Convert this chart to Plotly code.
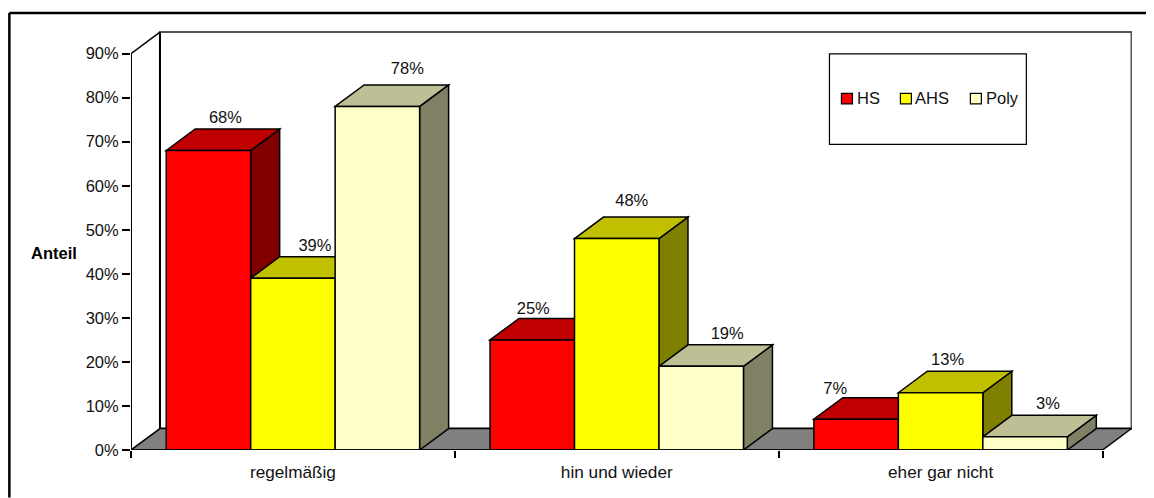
import plotly.graph_objects as go

# Data
categories = ["regelmäßig", "hin und wieder", "eher gar nicht"]
series_names = ["HS", "AHS", "Poly"]
hs_values = [68, 25, 7]
ahs_values = [39, 48, 13]
poly_values = [78, 19, 3]
y_ticks = [0, 10, 20, 30, 40, 50, 60, 70, 80, 90]

# Colours per series: front, top, side
front_colors = ["#FF0000", "#FFFF00", "#FFFFC8"]
top_colors = ["#C00000", "#C0C000", "#BFBF96"]
side_colors = ["#800000", "#808000", "#808064"]

# Label nudges in pixels from the centre of each bar (hand placed in the original)
label_dx = [[17, 1, -21], [22, 15, 7], [30, 26, 23]]
label_dy = [[32, 30, 29], [31, 37, 32], [37, 31, 32]]

# the page body has a default 8px margin, so everything is shifted by it
PAGE_OFFSET = 8
WIDTH = 1154
HEIGHT = 498
PLOT_LEFT = 130.7
PLOT_RIGHT = 1132.2
PLOT_TOP = 31
PLOT_BOTTOM = 450.5
PX_PER_CAT = 324
PX_PER_PCT = 4.41
DEPTH_X = 29 / PX_PER_CAT
DEPTH_Y = 21.5 / PX_PER_PCT
GROUP_WIDTH = 0.7825
BAR_WIDTH = GROUP_WIDTH / 3
FONT = "Liberation Sans"
FONT_SIZE = 16.5


def poly(points):
    return "M " + " L ".join(f"{x},{y}" for x, y in points) + " Z"


def paper_x(px):
    return (px - PLOT_LEFT) / (PLOT_RIGHT - PLOT_LEFT)


def paper_y(px):
    return (PLOT_BOTTOM - px) / (PLOT_BOTTOM - PLOT_TOP)


x_centers = [i + 0.5 for i in range(len(categories))]
x_max = (PLOT_RIGHT - PLOT_LEFT) / PX_PER_CAT
y_max = (PLOT_BOTTOM - PLOT_TOP) / PX_PER_PCT
all_values = [hs_values, ahs_values, poly_values]

fig = go.Figure()
shapes = []

# Back wall, floor and left wall
shapes.append(dict(type="rect", x0=DEPTH_X, x1=3 + DEPTH_X, y0=DEPTH_Y, y1=90 + DEPTH_Y,
                   fillcolor="white", line=dict(color="#555555", width=2), layer="below"))
shapes.append(dict(type="path", path=poly([(0, 0), (DEPTH_X, DEPTH_Y), (3 + DEPTH_X, DEPTH_Y), (3, 0)]),
                   fillcolor="#808080", line=dict(color="black", width=1.5), layer="below"))
shapes.append(dict(type="line", x0=DEPTH_X, x1=DEPTH_X, y0=DEPTH_Y, y1=90 + DEPTH_Y,
                   line=dict(color="black", width=2), layer="below"))
shapes.append(dict(type="line", x0=0, x1=DEPTH_X, y0=90, y1=90 + DEPTH_Y,
                   line=dict(color="black", width=1.5), layer="below"))

label_x, label_y, label_text = [], [], []
for s, name in enumerate(series_names):
    values = all_values[s]
    fig.add_trace(go.Bar(x=x_centers, y=values, name=name, width=BAR_WIDTH,
                         marker=dict(color=front_colors[s], line=dict(color="black", width=1.5))))
    for c, v in enumerate(values):
        x0 = x_centers[c] - GROUP_WIDTH / 2 + s * BAR_WIDTH
        x1 = x0 + BAR_WIDTH
        # top and side faces come from the bar's value plus the depth offset
        shapes.append(dict(type="path", path=poly([(x1, 0), (x1 + DEPTH_X, DEPTH_Y), (x1 + DEPTH_X, v + DEPTH_Y), (x1, v)]),
                           fillcolor=side_colors[s], line=dict(color="black", width=1.5), layer="below"))
        shapes.append(dict(type="path", path=poly([(x0, v), (x0 + DEPTH_X, v + DEPTH_Y), (x1 + DEPTH_X, v + DEPTH_Y), (x1, v)]),
                           fillcolor=top_colors[s], line=dict(color="black", width=1.5), layer="below"))
        label_x.append((x0 + x1) / 2 + label_dx[s][c] / PX_PER_CAT)
        label_y.append(v + label_dy[s][c] / PX_PER_PCT)
        label_text.append(f"{v}%")

fig.add_trace(go.Scatter(x=label_x, y=label_y, text=label_text, mode="text", textposition="middle center",
                         textfont=dict(family=FONT, size=FONT_SIZE, color="#111111"),
                         showlegend=False, hoverinfo="skip", cliponaxis=False))

# Front axis lines
shapes.append(dict(type="line", x0=0, x1=0, y0=0, y1=90, line=dict(color="black", width=2)))
shapes.append(dict(type="line", x0=0, x1=3, y0=0, y1=0, line=dict(color="black", width=1.5)))

# Outer frame: only the top and left edges fall inside the picture
shapes.append(dict(type="line", xref="paper", yref="paper", x0=paper_x(9), x1=paper_x(1154), y0=paper_y(13), y1=paper_y(13),
                   line=dict(color="black", width=2.5)))
shapes.append(dict(type="line", xref="paper", yref="paper", x0=paper_x(9), x1=paper_x(9), y0=paper_y(13), y1=paper_y(498),
                   line=dict(color="black", width=2.5)))

# Legend box drawn by hand: Plotly's swatch spacing is far wider than the original's
shapes.append(dict(type="rect", xref="paper", yref="paper", x0=paper_x(829.5), x1=paper_x(1026.5), y0=paper_y(54), y1=paper_y(144.5),
                   fillcolor="white", line=dict(color="black", width=1.2)))
annotations = []
swatch_left = [841.5, 900.5, 970.5]
legend_text_left = [857, 915, 986]
for s, name in enumerate(series_names):
    shapes.append(dict(type="rect", xref="paper", yref="paper", x0=paper_x(swatch_left[s]), x1=paper_x(swatch_left[s] + 11),
                       y0=paper_y(93.5), y1=paper_y(104), fillcolor=front_colors[s], line=dict(color="black", width=1.2)))
    annotations.append(dict(xref="paper", yref="paper", x=paper_x(legend_text_left[s]), y=paper_y(98), text=name, showarrow=False,
                            xanchor="left", yanchor="middle", xshift=-2, font=dict(family=FONT, size=FONT_SIZE, color="#111111")))

annotations.append(dict(xref="paper", yref="paper", x=paper_x(53.5), y=paper_y(253), text="<b>Anteil</b>", showarrow=False,
                        xanchor="center", yanchor="middle", font=dict(family=FONT, size=FONT_SIZE, color="black")))

fig.update_layout(
    width=WIDTH - PAGE_OFFSET,
    height=HEIGHT - PAGE_OFFSET,
    margin=dict(l=PLOT_LEFT - PAGE_OFFSET, r=WIDTH - PLOT_RIGHT, t=PLOT_TOP - PAGE_OFFSET, b=HEIGHT - PLOT_BOTTOM, pad=0),
    paper_bgcolor="white",
    plot_bgcolor="white",
    barmode="group",
    bargap=1 - GROUP_WIDTH,
    bargroupgap=0,
    showlegend=False,
    shapes=shapes,
    annotations=annotations,
    xaxis=dict(range=[0, x_max], tickvals=x_centers, ticktext=categories, ticks="", showgrid=False, zeroline=False,
               showline=False, tickfont=dict(family=FONT, size=17.2, color="#111111"), ticklabelstandoff=10,
               minor=dict(tickvals=[0, 1, 2, 3], ticks="outside", ticklen=7, tickwidth=1.5, tickcolor="black", showgrid=False)),
    yaxis=dict(range=[0, y_max], tickvals=y_ticks, ticktext=[f"{t}%" for t in y_ticks], ticks="outside", ticklen=8, tickwidth=2,
               tickcolor="black", showgrid=False, zeroline=False, showline=False,
               tickfont=dict(family=FONT, size=FONT_SIZE, color="#111111")),
)

fig.write_html("out.html")
